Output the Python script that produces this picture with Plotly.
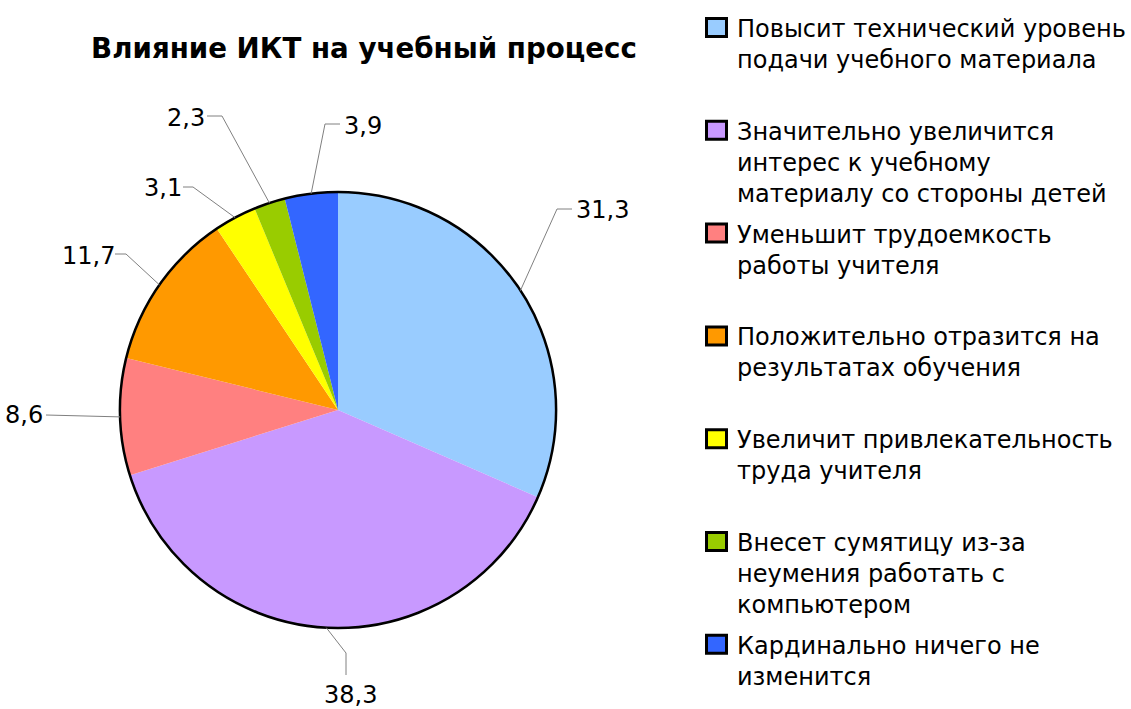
import math
import plotly.graph_objects as go

# ---- data ----
categories = [
    "Повысит технический уровень<br>подачи учебного материала",
    "Значительно увеличится<br>интерес к учебному<br>материалу со стороны детей",
    "Уменьшит трудоемкость<br>работы учителя",
    "Положительно отразится на<br>результатах обучения",
    "Увеличит привлекательность<br>труда учителя",
    "Внесет сумятицу из-за<br>неумения работать с<br>компьютером",
    "Кардинально ничего не<br>изменится",
]
values = [31.3, 38.3, 8.6, 11.7, 3.1, 2.3, 3.9]
colors = ["#99ccff", "#c899ff", "#ff8080", "#ff9900", "#ffff00", "#99cc00", "#3366ff"]
title_text = "Влияние ИКТ на учебный процесс"

# ---- layout constants (pixels) ----
W, H = 1131, 709
CX, CY, R = 338, 410, 218
FONT = "DejaVu Sans, Liberation Sans, sans-serif"

# label leader layout: elbow point, line end, text anchor point, side
label_layout = [
    ((557, 209), (572, 209), (574, 210), "left"),
    ((346, 653), (346, 675), (350, 695), "below"),
    ((46, 415), (46, 415), (45, 415), "right"),
    ((126, 254), (115, 254), (117, 256), "right"),
    ((193, 187), (183, 187), (184, 188), "right"),
    ((222, 116), (207, 116), (207, 118), "right"),
    ((325, 124), (340, 124), (342, 126), "left"),
]


def px(x):
    return x / W


def py(y):
    return 1 - y / H


fig = go.Figure()

dom_x = [px(CX - R), px(CX + R)]
dom_y = [py(CY + R), py(CY - R)]

fig.add_trace(go.Pie(
    values=values,
    labels=[c.replace("<br>", " ") for c in categories],
    marker=dict(colors=colors, line=dict(width=0)),
    sort=False, direction="clockwise", rotation=0,
    textinfo="none", hoverinfo="label+value",
    domain=dict(x=dom_x, y=dom_y), showlegend=False,
))
# outer border
fig.add_trace(go.Pie(
    values=[1], labels=["border"],
    marker=dict(colors=["rgba(0,0,0,0)"], line=dict(color="black", width=2.5)),
    sort=False, textinfo="none", hoverinfo="skip",
    domain=dict(x=dom_x, y=dom_y), showlegend=False,
))

shapes = []
annotations = []

total = sum(values)
cum = 0.0
for v, (elbow, end, tpos, side) in zip(values, label_layout):
    mid = (cum + v / 2) / total * 2 * math.pi
    cum += v
    ex = CX + R * math.sin(mid)
    ey = CY - R * math.cos(mid)
    path = f"M{px(ex)},{py(ey)} L{px(elbow[0])},{py(elbow[1])} L{px(end[0])},{py(end[1])}"
    shapes.append(dict(type="path", path=path, xref="paper", yref="paper",
                       line=dict(color="#808080", width=1)))
    txt = f"{v:.1f}".replace(".", ",")
    xa = {"left": "left", "right": "right", "below": "center"}[side]
    annotations.append(dict(text=txt, x=px(tpos[0]), y=py(tpos[1]), xref="paper", yref="paper",
                            xanchor=xa, yanchor="middle", showarrow=False,
                            font=dict(family=FONT, size=24, color="black")))

# custom legend
STEP = 102.8
for k, (cat, col) in enumerate(zip(categories, colors)):
    off = k * STEP
    shapes.append(dict(type="rect", xref="paper", yref="paper",
                       x0=px(706.5), x1=px(726.5), y0=py(36.5 + off), y1=py(18.5 + off),
                       fillcolor=col, line=dict(color="black", width=3)))
    annotations.append(dict(text=cat, x=px(735), y=py(13 + off), xref="paper", yref="paper",
                            xanchor="left", yanchor="top", align="left", showarrow=False,
                            font=dict(family=FONT, size=24, color="black")))

fig.update_layout(
    width=W, height=H,
    margin=dict(l=0, r=0, t=0, b=0),
    paper_bgcolor="white", plot_bgcolor="white",
    showlegend=False,
    title=dict(text=f"<b>{title_text}</b>", x=px(364), xanchor="center",
               y=py(48), yanchor="middle",
               font=dict(family=FONT, size=27.7, color="black")),
    shapes=shapes, annotations=annotations,
)

fig.write_html("out.html",
               config={"displayModeBar": False},
               post_script="document.body.style.margin='0';document.body.style.padding='0';")
